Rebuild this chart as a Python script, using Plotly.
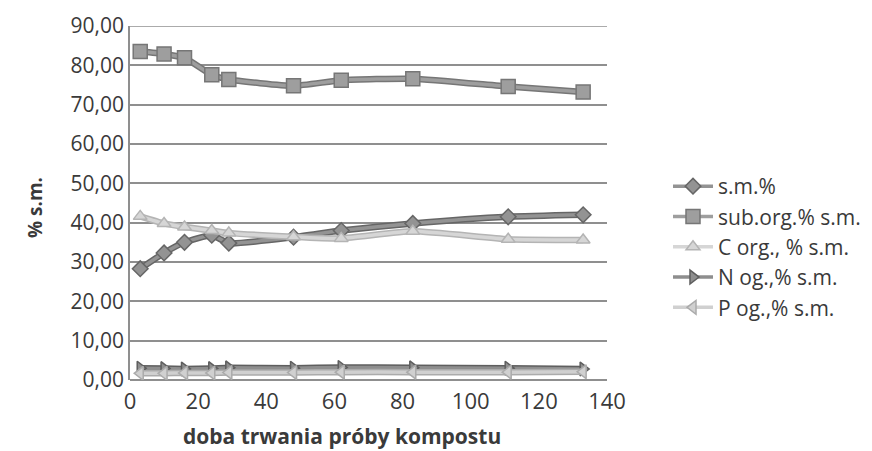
import plotly.graph_objects as go

# Compost sample age (days)
days = [3, 10, 16, 24, 29, 48, 62, 83, 111, 133]

# Measured parameters, % of dry matter
sm_pct = [28.3, 32.3, 35.0, 36.8, 34.8, 36.3, 38.0, 39.8, 41.5, 42.0]
sub_org = [83.5, 82.9, 81.9, 77.6, 76.4, 74.8, 76.2, 76.6, 74.6, 73.2]
c_org = [41.6, 39.8, 38.9, 38.0, 37.4, 36.4, 36.0, 37.8, 35.8, 35.6]
n_og = [3.0, 2.9, 2.8, 2.9, 3.1, 3.0, 3.2, 3.1, 3.0, 2.8]
p_og = [1.7, 1.7, 1.8, 1.8, 1.9, 1.9, 2.0, 2.0, 2.0, 2.1]

names = ["s.m.%", "sub.org.% s.m.", "C org., % s.m.", "N og.,% s.m.", "P og.,% s.m."]
values = [sm_pct, sub_org, c_org, n_og, p_og]
symbols = ["diamond", "square", "triangle-up", "triangle-right", "triangle-left"]
fills = ["#939393", "#9e9e9e", "#d6d6d6", "#8e8e8e", "#d0d0d0"]
edges = ["#666666", "#767676", "#b4b4b4", "#5e5e5e", "#ababab"]
sizes = [12, 14, 12, 12, 12]

FONT = "'Open Sans', Lato, sans-serif"
TXT = "#3a3a3a"

fig = go.Figure()
for name, ys, sym, fc, ec, sz in zip(names, values, symbols, fills, edges, sizes):
    # darker underlay gives the line its outlined look
    fig.add_trace(go.Scatter(
        x=days, y=ys, mode="lines", legendgroup=name, showlegend=False,
        line=dict(color=ec, width=6.5, shape="spline", smoothing=0.5),
        hoverinfo="skip",
    ))
    fig.add_trace(go.Scatter(
        x=days, y=ys, mode="lines+markers", name=name, legendgroup=name,
        line=dict(color=fc, width=3.5, shape="spline", smoothing=0.5),
        marker=dict(symbol=sym, size=sz, color=fc, line=dict(color=ec, width=1.5)),
    ))

fig.update_layout(
    width=872, height=451,
    margin=dict(l=130, r=265, t=26, b=71),
    paper_bgcolor="white", plot_bgcolor="white",
    separators=", ",
    font=dict(family=FONT, size=22, color=TXT),
    showlegend=True,
    legend=dict(
        xref="container", yref="container",
        x=668 / 872, y=1 - 247 / 451, xanchor="left", yanchor="middle",
        font=dict(family=FONT, size=21, color=TXT),
        itemwidth=40, tracegroupgap=0,
    ),
    xaxis=dict(
        range=[0, 140], dtick=20, tick0=0,
        showgrid=False, zeroline=False,
        showline=False, ticks="",
        tickfont=dict(size=22), ticklabelstandoff=6,
    ),
    yaxis=dict(
        range=[0, 90], dtick=10, tick0=0, tickformat=".2f",
        showgrid=True, gridcolor="#8f8f8f", gridwidth=1.5,
        zeroline=True, zerolinecolor="#8f8f8f", zerolinewidth=1.5,
        showline=True, linecolor="#8f8f8f", linewidth=1.5,
        ticks="", tickfont=dict(size=21),
    ),
    annotations=[
        dict(text="<b>doba trwania próby kompostu</b>", xref="paper", yref="paper",
             x=(342 - 130) / 477, y=-(436 - 380) / 354, xanchor="center", yanchor="middle",
             showarrow=False, font=dict(size=21, color=TXT)),
        dict(text="<b>% s.m.</b>", xref="paper", yref="paper",
             x=-(130 - 35) / 477, y=(380 - 208) / 354, xanchor="center", yanchor="middle",
             textangle=-90, showarrow=False, font=dict(size=19, color=TXT)),
    ],
)

# top border line of the plot area at 90
fig.add_shape(type="line", xref="paper", yref="y", x0=0, x1=1, y0=90, y1=90,
              line=dict(color="#8f8f8f", width=1.5), layer="below")

fig.write_html("out.html")
